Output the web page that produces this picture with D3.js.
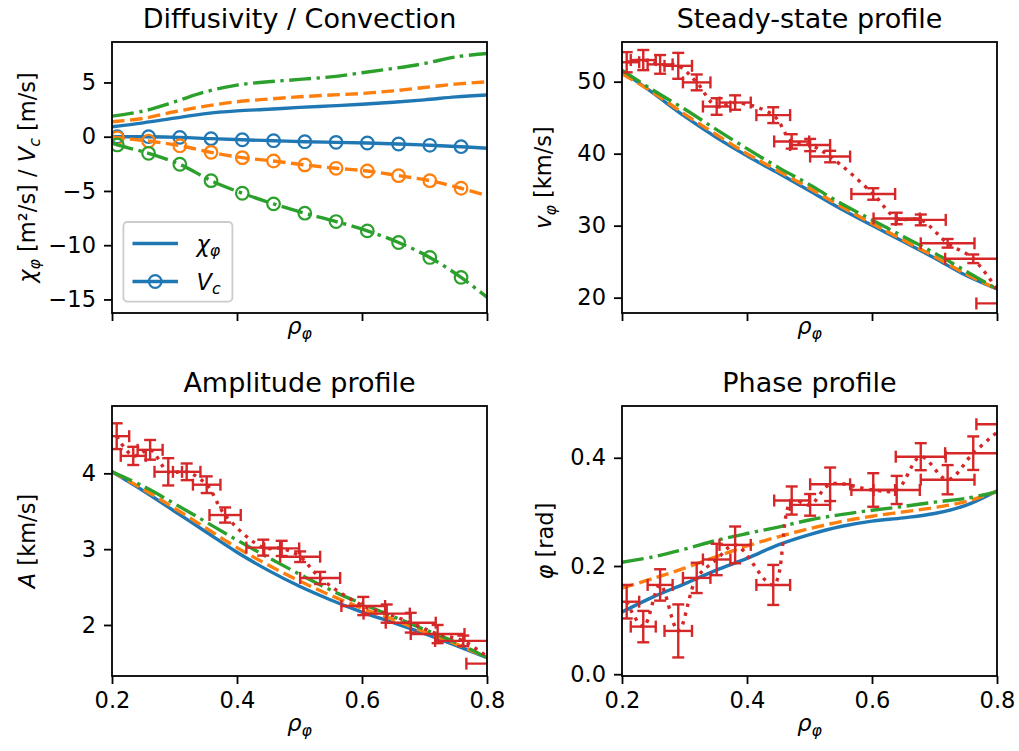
<!DOCTYPE html>
<html><head><meta charset="utf-8">
<script src="https://cdn.jsdelivr.net/npm/d3@7"></script>
<style>
body{margin:0;background:#fff}
svg{display:block}
text{font-family:"DejaVu Sans",sans-serif;fill:#000}
</style>
</head><body>
<svg id="c" width="1019" height="751"></svg>
<script>
// ---------- data ----------
const rhoGrid = [0.2,0.25,0.3,0.35,0.4,0.45,0.5,0.55,0.6,0.65,0.7,0.75,0.8];

const chiBlue   = [0.92,1.28,1.71,2.13,2.38,2.53,2.70,2.84,2.99,3.18,3.40,3.67,3.84];
const chiOrange = [1.38,1.69,2.30,2.82,3.22,3.47,3.68,3.84,3.99,4.23,4.54,4.85,5.06];
const chiGreen  = [1.90,2.36,3.22,4.14,4.76,5.06,5.28,5.52,5.89,6.29,6.75,7.36,7.67];

const vcRho    = [0.2,0.2085,0.2585,0.3085,0.3585,0.4085,0.4585,0.5085,0.5585,0.6085,0.6585,0.7085,0.7585,0.8];
const vcBlue   = [0.02,0,0,-0.06,-0.18,-0.28,-0.37,-0.46,-0.52,-0.58,-0.67,-0.79,-0.92,-1.07];
const vcOrange = [-0.02,-0.1,-0.4,-0.83,-1.44,-1.93,-2.24,-2.6,-2.91,-3.16,-3.59,-4.05,-4.75,-5.43];
const vcGreen  = [-0.6,-0.76,-1.53,-2.54,-4.05,-5.21,-6.19,-7.05,-7.82,-8.68,-9.75,-11.13,-12.97,-14.8];

const velBlue   = [51.5,48.4,45.2,42.3,39.7,37.3,34.85,32.35,30.05,27.8,25.5,23.1,21.2];
const velOrange = [51.1,48.5,45.5,42.7,40.0,37.6,35.2,32.7,30.3,28.0,25.7,23.3,21.2];
const velGreen  = [51.6,48.8,46.2,43.4,40.7,38.1,35.7,33.1,30.8,28.5,26.2,23.7,21.2];

const ampBlue   = [4.02,3.77,3.50,3.23,2.96,2.72,2.51,2.33,2.17,2.03,1.885,1.73,1.57];
const ampOrange = [4.02,3.79,3.54,3.28,3.02,2.79,2.58,2.39,2.22,2.07,1.91,1.75,1.57];
const ampGreen  = [4.02,3.83,3.60,3.36,3.12,2.89,2.67,2.46,2.28,2.11,1.94,1.77,1.57];

const phaseBlue   = [0.115,0.143,0.167,0.192,0.214,0.239,0.258,0.273,0.283,0.289,0.297,0.312,0.339];
const phaseOrange = [0.159,0.177,0.196,0.217,0.237,0.254,0.269,0.282,0.292,0.300,0.308,0.319,0.338];
const phaseGreen  = [0.207,0.217,0.231,0.247,0.260,0.272,0.285,0.295,0.303,0.310,0.318,0.325,0.337];

const obsRho    = [0.2075,0.234,0.261,0.290,0.3195,0.3515,0.381,0.442,0.4715,0.501,0.533,0.602,0.6395,0.678,0.721,0.762,0.815];
const obsRhoErr = [0.02,0.02,0.02,0.022,0.022,0.022,0.025,0.027,0.028,0.032,0.032,0.035,0.037,0.04,0.043,0.045,0.048];

const obsVel    = [52.7,53.0,52.4,52.2,49.9,46.55,47.1,45.35,41.7,41.2,39.6,34.4,31.0,30.8,27.55,25.4,19.2];
const obsVelErr = [1.4,1.4,1.3,1.8,1.1,1.15,1.0,1.1,1.0,0.85,0.8,0.8,0.8,0.75,0.6,0.6,0.5];

const obsAmp    = [4.49,4.23,4.31,4.02,4.02,3.85,3.45,3.02,3.01,2.90,2.62,2.25,2.15,2.03,1.88,1.79,1.49];
const obsAmpErr = [0.17,0.12,0.13,0.18,0.11,0.11,0.10,0.105,0.10,0.07,0.08,0.12,0.12,0.13,0.12,0.07,0.08];

const obsPhase    = [0.134,0.088,0.165,0.080,0.178,0.212,0.239,0.165,0.321,0.313,0.351,0.3405,0.3405,0.402,0.3595,0.4085,0.462];
const obsPhaseErr = [0.031,0.029,0.029,0.049,0.028,0.029,0.034,0.037,0.026,0.020,0.031,0.031,0.026,0.025,0.027,0.031,0.02];

const xTicks = [0.2,0.4,0.6,0.8];
const yTicksTL = [5,0,-5,-10,-15];
const yTicksTR = [20,30,40,50];
const yTicksBL = [2,3,4];
const yTicksBR = [0.0,0.2,0.4];

const titles = ["Diffusivity / Convection","Steady-state profile","Amplitude profile","Phase profile"];

// ---------- styling ----------
const C = {blue:"#1f77b4", orange:"#ff7f0e", green:"#2ca02c", red:"#d62728"};
const LW = 3.4;
const DASH = "12.6,5.5", DASHDOT = "21.9,5.5,3.4,5.5", DOT = "3.4,5.6";
const FS = 22.5, TFS = 27;
const MR = 6.3;

const svg = d3.select("#c");
const panels = [
  {x0:112,x1:487,y0:42,y1:313,  yd:[-16.25,8.73],   yt:yTicksTL, yf:d=>d3.format("d")(d).replace("-","\u2212"), xl:false},
  {x0:622,x1:997,y0:42,y1:313,  yd:[17.87,55.51],   yt:yTicksTR, yf:d3.format("d"), xl:false},
  {x0:112,x1:487,y0:406,y1:676, yd:[1.327,4.888],   yt:yTicksBL, yf:d3.format("d"), xl:true},
  {x0:622,x1:997,y0:406,y1:676, yd:[-0.0033,0.4957],yt:yTicksBR, yf:d3.format(".1f"), xl:true}
];

function mathText(parent, parts, size) {
  const t = parent.append("text").attr("font-size", size);
  let off = 0;
  parts.forEach(p => {
    const ts = t.append("tspan").text(p.t);
    if (p.it) ts.attr("font-style","italic");
    let target = 0;
    if (p.sub) { ts.attr("font-size", size*0.7); target = size*0.2; }
    if (p.sup) { ts.attr("font-size", size*0.7); target = -size*0.35; }
    if (target !== off) { ts.attr("dy", target-off); off = target; }
  });
  return t;
}

panels.forEach((p,i) => {
  p.x = d3.scaleLinear().domain([0.2,0.8]).range([p.x0,p.x1]);
  p.y = d3.scaleLinear().domain(p.yd).range([p.y1,p.y0]);
  p.g = svg.append("g");
  svg.append("clipPath").attr("id","clip"+i).append("rect")
    .attr("x",p.x0).attr("y",p.y0).attr("width",p.x1-p.x0).attr("height",p.y1-p.y0);
  p.plot = p.g.append("g").attr("clip-path","url(#clip"+i+")");
  const xa = d3.axisBottom(p.x).tickValues(xTicks).tickSize(8).tickPadding(8)
    .tickFormat(p.xl ? d3.format(".1f") : () => "");
  const gx = p.g.append("g").attr("transform",`translate(0,${p.y1})`).call(xa);
  const ya = d3.axisLeft(p.y).tickValues(p.yt).tickSize(8).tickPadding(8).tickFormat(p.yf);
  const gy = p.g.append("g").attr("transform",`translate(${p.x0},0)`).call(ya);
  [gx,gy].forEach(g => {
    g.select(".domain").remove();
    g.selectAll(".tick line").attr("stroke","#000").attr("stroke-width",1.8);
    g.selectAll(".tick text").attr("font-size",FS).attr("font-family","DejaVu Sans").attr("fill","#000");
  });
  p.g.append("text").attr("x",(p.x0+p.x1)/2).attr("y",p.y0-13.7)
    .attr("text-anchor","middle").attr("font-size",TFS).text(titles[i]);
  const xl = mathText(p.g,[{t:"\u03c1",it:true},{t:"\u03c6",it:true,sub:true}],FS);
  xl.attr("x",(p.x0+p.x1)/2).attr("y", p.xl ? p.y1+55 : p.y1+21).attr("text-anchor","middle");
});

function drawLine(p, xs, ys, color, dash) {
  const line = d3.line().x((d,i)=>p.x(xs[i])).y(d=>p.y(d)).curve(d3.curveCatmullRom);
  p.plot.append("path").attr("d",line(ys)).attr("fill","none")
    .attr("stroke",color).attr("stroke-width",LW).attr("stroke-dasharray",dash||null);
}

function drawObs(p, ys, yerr) {
  const g = p.plot.append("g").attr("stroke",C.red).attr("stroke-width",2.4).attr("fill","none");
  const cap = 6;
  ys.forEach((v,i) => {
    const cx = p.x(obsRho[i]), cy = p.y(v);
    const xl = p.x(obsRho[i]-obsRhoErr[i]), xr = p.x(obsRho[i]+obsRhoErr[i]);
    const yt = p.y(v+yerr[i]), yb = p.y(v-yerr[i]);
    g.append("line").attr("x1",xl).attr("x2",xr).attr("y1",cy).attr("y2",cy);
    g.append("line").attr("x1",cx).attr("x2",cx).attr("y1",yt).attr("y2",yb);
    [xl,xr].forEach(x=>g.append("line").attr("x1",x).attr("x2",x).attr("y1",cy-cap).attr("y2",cy+cap));
    [yt,yb].forEach(y=>g.append("line").attr("x1",cx-cap).attr("x2",cx+cap).attr("y1",y).attr("y2",y));
  });
  drawLine(p, obsRho, ys, C.red, DOT);
}

const P0 = panels[0];
drawLine(P0, rhoGrid, chiBlue, C.blue);
drawLine(P0, rhoGrid, chiOrange, C.orange, DASH);
drawLine(P0, rhoGrid, chiGreen, C.green, DASHDOT);
[[vcBlue,C.blue,null],[vcOrange,C.orange,DASH],[vcGreen,C.green,DASHDOT]].forEach(([vals,col,dash]) => {
  drawLine(P0, vcRho, vals, col, dash);
  P0.plot.append("g").selectAll("circle").data(vals.slice(1,-1)).join("circle")
    .attr("cx",(d,i)=>P0.x(vcRho[i+1])).attr("cy",d=>P0.y(d)).attr("r",MR)
    .attr("fill","none").attr("stroke",col).attr("stroke-width",2.2);
});

const P1 = panels[1];
drawLine(P1, rhoGrid, velBlue, C.blue);
drawLine(P1, rhoGrid, velOrange, C.orange, DASH);
drawLine(P1, rhoGrid, velGreen, C.green, DASHDOT);
drawObs(P1, obsVel, obsVelErr);

const P2 = panels[2];
drawLine(P2, rhoGrid, ampBlue, C.blue);
drawLine(P2, rhoGrid, ampOrange, C.orange, DASH);
drawLine(P2, rhoGrid, ampGreen, C.green, DASHDOT);
drawObs(P2, obsAmp, obsAmpErr);

const P3 = panels[3];
drawLine(P3, rhoGrid, phaseBlue, C.blue);
drawLine(P3, rhoGrid, phaseOrange, C.orange, DASH);
drawLine(P3, rhoGrid, phaseGreen, C.green, DASHDOT);
drawObs(P3, obsPhase, obsPhaseErr);

panels.forEach(p => {
  p.g.append("rect").attr("x",p.x0).attr("y",p.y0).attr("width",p.x1-p.x0).attr("height",p.y1-p.y0)
    .attr("fill","none").attr("stroke","#000").attr("stroke-width",1.8);
});

function yLabel(parts, x, p) {
  const t = mathText(svg, parts, FS);
  t.attr("text-anchor","middle").attr("transform",`translate(${x},${(p.y0+p.y1)/2}) rotate(-90)`);
}
yLabel([{t:"\u03c7",it:true},{t:"\u03c6",it:true,sub:true},{t:" [m\u00b2/s] / "},{t:"V",it:true},{t:"c",it:true,sub:true},{t:" [m/s]"}], 35, panels[0]);
yLabel([{t:"v",it:true},{t:"\u03c6",it:true,sub:true},{t:" [km/s]"}], 551, panels[1]);
yLabel([{t:"A",it:true},{t:" [km/s]"}], 35, panels[2]);
yLabel([{t:"\u03c6",it:true},{t:" [rad]"}], 553, panels[3]);

const lg = svg.append("g");
lg.append("rect").attr("x",123.4).attr("y",222).attr("width",109).attr("height",79.6).attr("rx",4)
  .attr("fill","#fff").attr("fill-opacity",0.8).attr("stroke","#cccccc").attr("stroke-width",1.8);
const legendRows = [{y:243.5, marker:false, parts:[{t:"\u03c7",it:true},{t:"\u03c6",it:true,sub:true}]},
                    {y:281.5, marker:true,  parts:[{t:"V",it:true},{t:"c",it:true,sub:true}]}];
legendRows.forEach(r => {
  lg.append("line").attr("x1",132.5).attr("x2",178).attr("y1",r.y).attr("y2",r.y)
    .attr("stroke",C.blue).attr("stroke-width",LW);
  if (r.marker) lg.append("circle").attr("cx",155.2).attr("cy",r.y).attr("r",MR)
    .attr("fill","none").attr("stroke",C.blue).attr("stroke-width",2.2);
  mathText(lg, r.parts, FS).attr("x",196.5).attr("y",r.y+8);
});
</script>
</body></html>
